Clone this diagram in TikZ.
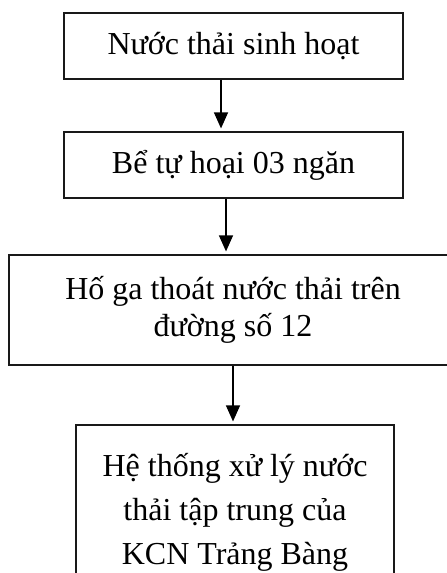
\documentclass[tikz,border=0pt]{standalone}
\usepackage{fontspec}
\setmainfont{Liberation Serif}
\usetikzlibrary{arrows.meta}
\begin{document}
\begin{tikzpicture}[x=1pt,y=-1pt,
 box/.style={draw=black!90, line width=1.2pt, inner sep=0pt, align=center, font=\fontsize{32}{37}\selectfont},
 arr/.style={-{Triangle[width=14pt,length=16pt]}, line width=1.3pt, shorten >=3pt}]
\useasboundingbox (0,0) rectangle (447,573);
\clip (0,0) rectangle (447,573);
\node[box, minimum width=339pt, minimum height=66pt] (b1) at (233.5,46) {Nước thải sinh hoạt};
\node[box, minimum width=339pt, minimum height=66pt] (b2) at (233.5,165) {Bể tự hoại 03 ngăn};
\node[box, minimum width=448pt, minimum height=110pt] (b3) at (233,310) {Hố ga thoát nước thải trên\\đường số 12};
\node[box, minimum width=318pt, minimum height=174pt, font=\fontsize{32}{44}\selectfont] (b4) at (235,512) {Hệ thống xử lý nước\\thải tập trung của\\KCN Trảng Bàng};
\draw[arr] ([xshift=-12.5pt]b1.south) -- ([xshift=-12.5pt]b1.south |- b2.north);
\draw[arr] ([xshift=-7.5pt]b2.south) -- ([xshift=-7.5pt]b2.south |- b3.north);
\draw[arr] (b3.south) -- (b3.south |- b4.north);
\end{tikzpicture}
\end{document}
